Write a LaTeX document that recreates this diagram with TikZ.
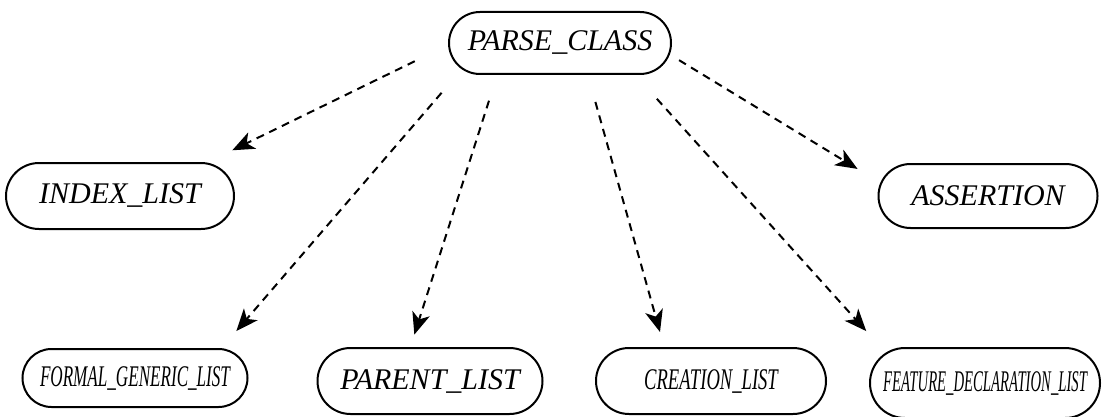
\documentclass[tikz,border=0pt]{standalone}
\usepackage{fontspec}
\setmainfont{Liberation Serif}
\usepackage{tikz}
\usetikzlibrary{shapes.misc}
\usetikzlibrary{arrows.meta}

\begin{document}
\begin{tikzpicture}[
  x=0.5pt,y=-0.5pt,
  mynode/.style={draw,rounded rectangle,line width=1pt,inner sep=0pt,font=\fontsize{15}{17}\selectfont\itshape},
  myedge/.style={line width=1pt,dash pattern=on 4pt off 3pt,-{Stealth[length=11pt,width=9pt,inset=3pt]}}
]
\useasboundingbox (0,0) rectangle (1102,417);

\node[mynode,minimum width=111pt,minimum height=31pt] (pc) at (560,43) {PARSE\_CLASS};
\node[mynode,minimum width=114pt,minimum height=33pt] (il) at (120,196) {INDEX\_LIST};
\node[mynode,minimum width=109.5pt,minimum height=32pt] (as) at (988,196) {ASSERTION};
\node[mynode,minimum width=112.5pt,minimum height=29pt] (fgl) at (135,378) {\scalebox{0.57}[1]{FORMAL\_GENERIC\_LIST}};
\node[mynode,minimum width=112.5pt,minimum height=33pt] (pl) at (430,381) {PARENT\_LIST};
\node[mynode,minimum width=115pt,minimum height=33pt] (cl) at (711,381) {\scalebox{0.62}[1]{CREATION\_LIST}};
\node[mynode,minimum width=115pt,minimum height=35pt] (fdl) at (985,383) {\scalebox{0.49}[1]{FEATURE\_DECLARATION\_LIST}};

\draw[myedge,shorten <=18.5pt,shorten >=14pt] (pc.181) -- (il.21);
\draw[myedge,shorten <=15.5pt,shorten >=11.3pt] (pc.195) -- (fgl.19.5);
\draw[myedge,shorten <=13.5pt,shorten >=6.5pt] (pc.207) -- (pl.120.6);
\draw[myedge,shorten <=14pt,shorten >=7.8pt] (pc.311.4) -- (cl.144.2);
\draw[myedge,shorten <=16pt,shorten >=14.5pt] (pc.337.7) -- (fdl.163.7);
\draw[myedge,shorten <=5.4pt,shorten >=13.3pt] (pc.354.8) -- (as.173.6);
\end{tikzpicture}
\end{document}
